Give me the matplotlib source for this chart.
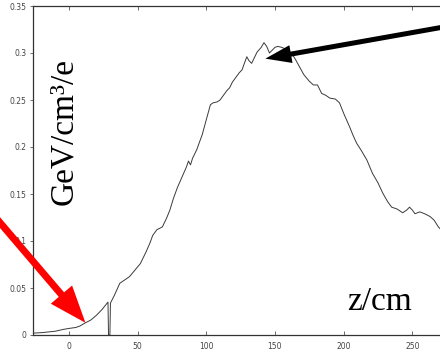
import matplotlib
matplotlib.use("Agg")
import matplotlib.pyplot as plt
from matplotlib.patches import FancyArrow
from matplotlib.transforms import IdentityTransform
import numpy as np

# data
z = [-26, -20, -10, -4, 0, 5, 8, 12, 16, 20, 24, 28.4, 28.8, 29.8, 30.2, 33, 37, 40, 44, 48,
     52, 56, 59, 61, 64, 68, 71, 73.5, 76, 79, 82, 85.6, 87, 88.5, 90, 93, 95, 97, 100, 103,
     105, 108, 110, 113, 115, 117, 119, 122, 124, 126, 128, 129.5, 131, 133, 135, 137, 140, 142,
     144, 146, 148, 150, 152, 155, 158, 160, 162, 165, 168, 171, 175, 178, 181, 184, 187, 190,
     194, 197, 200, 204.5, 207, 209.5, 213, 217, 221, 225, 228.5, 232, 235, 239, 243, 246, 248,
     250, 252, 255.5, 259, 263, 266, 269, 271]
v = [0.002, 0.0025, 0.004, 0.006, 0.007, 0.008, 0.0096, 0.013, 0.016, 0.021, 0.027, 0.035, 0.0, 0.0,
     0.034, 0.042, 0.055, 0.058, 0.062, 0.069, 0.076, 0.088, 0.098, 0.106, 0.112, 0.115, 0.124,
     0.133, 0.145, 0.157, 0.167, 0.179, 0.185, 0.181, 0.188, 0.197, 0.205, 0.213, 0.229, 0.245,
     0.247, 0.248, 0.250, 0.256, 0.260, 0.263, 0.269, 0.275, 0.279, 0.282, 0.290, 0.296, 0.292,
     0.289, 0.295, 0.301, 0.306, 0.311, 0.307, 0.300, 0.303, 0.306, 0.307, 0.306, 0.304, 0.302,
     0.300, 0.293, 0.285, 0.277, 0.270, 0.266, 0.266, 0.257, 0.255, 0.252, 0.251, 0.247, 0.236,
     0.221, 0.212, 0.204, 0.196, 0.186, 0.172, 0.162, 0.151, 0.142, 0.136, 0.134, 0.130, 0.133,
     0.136, 0.133, 0.129, 0.131, 0.129, 0.126, 0.122, 0.115, 0.112]

xticks = [0, 50, 100, 150, 200, 250]
yticks = [0, 0.05, 0.1, 0.15, 0.2, 0.25, 0.3, 0.35]
ytick_labels = ["0", "0.05", "0.1", "0.15", "0.2", "0.25", "0.3", "0.35"]

W, H = 440, 355
fig = plt.figure(figsize=(W / 100, H / 100), dpi=100)
ax = fig.add_axes([33 / W, 20 / H, (W - 33) / W, 329 / H])
ax.plot(z, v, color="#3a3a3a", lw=0.7)
ax.set_xlim(-26.2, 270.2)
ax.set_ylim(0, 0.35)
ax.set_xticks(xticks)
ax.set_xticklabels([str(t) for t in xticks])
ax.set_yticks(yticks)
ax.set_yticklabels(ytick_labels)
ax.spines["right"].set_visible(False)
for s in ["left", "bottom", "top"]:
    ax.spines[s].set_color("#333333")
    ax.spines[s].set_linewidth(0.9)
ax.tick_params(axis="x", direction="in", length=3, width=0.6, color="#555555",
               labelsize=5.5, labelcolor="#444444", pad=5, top=True)
ax.tick_params(axis="y", direction="out", length=2.5, width=0.6, color="#555555",
               labelsize=5.5, labelcolor="#444444", pad=2)

serif = ["Liberation Serif", "DejaVu Serif"]
ident = IdentityTransform()
fig.text(72 / 100 * 100 / W, 1 - 132 / H, "GeV/cm³/e", rotation=90, family=serif,
         fontsize=24, ha="center", va="baseline", rotation_mode="anchor",
         transform=fig.transFigure)
fig.text(379 / W, 1 - 310 / H, "z/cm", family=serif, fontsize=24, ha="center",
         va="baseline", transform=fig.transFigure)

fig.canvas.draw()
# red arrow pointing at curve near z=12
tip_r = ax.transData.transform((12, 0.013))
tail_r = np.array([-15.0, H - 205.0])
d = tip_r - tail_r
fig.add_artist(FancyArrow(tail_r[0], tail_r[1], d[0], d[1], width=7, head_width=28,
                          head_length=37, length_includes_head=True, color="#ff0000",
                          ec="none", transform=ident, clip_on=False))
# black arrow pointing at the peak
tip_b = ax.transData.transform((143, 0.294))
tail_b = np.array([455.0, H - 25.0])
d = tip_b - tail_b
fig.add_artist(FancyArrow(tail_b[0], tail_b[1], d[0], d[1], width=5, head_width=18,
                          head_length=26, length_includes_head=True, color="black",
                          ec="none", transform=ident, clip_on=False))

fig.savefig("out.png", dpi=100)
